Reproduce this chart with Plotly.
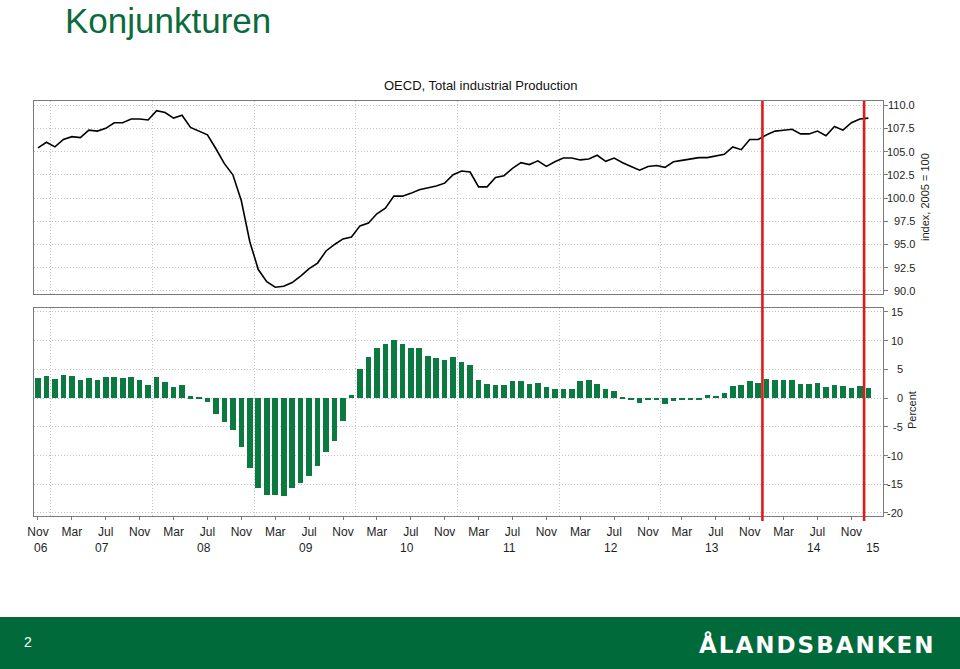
import plotly.graph_objects as go

W, H = 960, 669

# Month index: 0 = Nov 2006 ... 98 = Jan 2015
index_values = [105.4, 106.0, 105.5, 106.3, 106.6, 106.5, 107.3, 107.2, 107.5, 108.1,
                108.1, 108.5, 108.5, 108.4, 109.4, 109.2, 108.6, 108.9, 107.6, 107.2,
                106.8, 105.3, 103.7, 102.5, 99.7, 95.3, 92.3, 91.0, 90.4, 90.5,
                90.9, 91.6, 92.4, 93.0, 94.3, 95.0, 95.6, 95.8, 97.0, 97.3,
                98.3, 98.9, 100.2, 100.2, 100.5, 100.9, 101.1, 101.3, 101.6, 102.5,
                102.9, 102.8, 101.2, 101.2, 102.2, 102.4, 103.2, 103.8, 103.6, 104.0,
                103.4, 103.9, 104.3, 104.3, 104.1, 104.2, 104.6, 103.95, 104.3, 103.8,
                103.4, 103.0, 103.4, 103.5, 103.3, 103.9, 104.05, 104.2, 104.35, 104.35,
                104.5, 104.7, 105.5, 105.2, 106.3, 106.3, 106.8, 107.2, 107.3, 107.4,
                106.9, 106.9, 107.2, 106.7, 107.7, 107.3, 108.1, 108.5, 108.6]

yoy_percent = [3.5, 3.9, 3.4, 4.1, 3.8, 3.2, 3.5, 3.2, 3.7, 3.7,
               3.5, 3.7, 3.1, 2.3, 3.7, 2.8, 1.9, 2.3, 0.3, 0.2,
               -0.7, -2.7, -4.1, -5.6, -8.5, -12.2, -15.7, -16.8, -16.9, -17.0,
               -15.6, -14.7, -13.6, -11.9, -9.3, -7.5, -4.0, 0.6, 5.1, 7.1,
               8.8, 9.4, 10.2, 9.5, 8.8, 8.7, 7.4, 6.9, 6.6, 7.2,
               6.3, 5.8, 3.1, 2.5, 2.2, 2.3, 2.9, 3.0, 2.5, 2.7,
               1.9, 1.5, 1.6, 1.6, 3.0, 3.1, 2.4, 1.6, 1.2, 0.2,
               -0.2, -0.9, -0.3, -0.3, -1.0, -0.5, -0.2, -0.2, -0.2, 0.5,
               0.4, 0.9, 2.1, 2.2, 2.9, 2.7, 3.4, 3.2, 3.2, 3.2,
               2.5, 2.5, 2.6, 1.9, 2.2, 2.1, 1.7, 2.1, 1.7]

month_idx = list(range(len(index_values)))

month_tick_pos = list(range(0, 97, 4))
month_tick_text = ["Nov", "Mar", "Jul"] * 8 + ["Nov"]
year_label_pos = [0.4, 7.6, 19.6, 31.6, 43.6, 55.6, 67.6, 79.6, 91.6, 98.5]
year_label_text = ["06", "07", "08", "09", "10", "11", "12", "13", "14", "15"]
year_boundaries = [1.5 + 12 * k for k in range(9)]
red_line_pos = [85.5, 97.5]

top_ticks = [90.0, 92.5, 95.0, 97.5, 100.0, 102.5, 105.0, 107.5, 110.0]
bottom_ticks = [-20, -15, -10, -5, 0, 5, 10, 15]

FONT = "Liberation Sans, Arial, sans-serif"
GRID = "#c4c4c4"
FRAME = "#7a7a7a"
GREEN_BAR = "#0a7a40"
GREEN_DARK = "#006a3a"
TEXT = "#1e1e1e"


def py(y):
    return 1 - y / H


fig = go.Figure()
fig.add_trace(go.Scatter(x=month_idx, y=index_values, mode="lines",
                         line=dict(color="black", width=1.6),
                         xaxis="x", yaxis="y", showlegend=False, hoverinfo="skip"))
fig.add_trace(go.Bar(x=month_idx, y=yoy_percent, marker_color=GREEN_BAR,
                     marker_line_width=0, width=0.66,
                     xaxis="x2", yaxis="y2", showlegend=False, hoverinfo="skip"))

xdom = [34 / W, 883 / W]
xrange_ = [-0.47, 99.73]
DOT = "1px,2px"

common_x = dict(domain=xdom, range=xrange_, showline=True, mirror=True, automargin=False,
                linecolor=FRAME, linewidth=1, zeroline=False, showgrid=False,
                tickmode="array", tickvals=month_tick_pos,
                minor=dict(tickmode="array", tickvals=year_boundaries, showgrid=True,
                           gridcolor=GRID, griddash=DOT, gridwidth=1))

fig.update_layout(
    width=W, height=H, margin=dict(l=0, r=0, t=0, b=0, autoexpand=False),
    paper_bgcolor="white", plot_bgcolor="white",
    font=dict(family=FONT, color=TEXT, size=12),
    bargap=0,
    xaxis=dict(**common_x, anchor="y", showticklabels=False, ticks=""),
    xaxis2=dict(**common_x, anchor="y2", ticktext=month_tick_text,
                ticks="outside", ticklen=3, tickcolor=FRAME,
                tickfont=dict(size=12, family=FONT, color=TEXT),
                ticklabelstandoff=2),
    yaxis=dict(domain=[py(294), py(101)], range=[89.67, 110.44], side="right",
               anchor="x", tickmode="array", tickvals=top_ticks, showticklabels=False,
               ticks="outside", ticklen=4, tickcolor=FRAME, automargin=False,
               showgrid=True, gridcolor=GRID, griddash=DOT, zeroline=False,
               showline=True, mirror=True, linecolor=FRAME, linewidth=1),
    yaxis2=dict(domain=[py(516), py(308)], range=[-20.53, 15.69], side="right",
                anchor="x2", tickmode="array", tickvals=bottom_ticks, showticklabels=False,
                ticks="outside", ticklen=4, tickcolor=FRAME, automargin=False,
                showgrid=True, gridcolor=GRID, griddash=DOT, zeroline=False,
                showline=True, mirror=True, linecolor=FRAME, linewidth=1),
)

shapes = []
for xv in red_line_pos:
    shapes.append(dict(type="line", xref="x", yref="paper", x0=xv, x1=xv,
                       y0=py(521), y1=py(101), line=dict(color="#dd1c1c", width=2.6)))
shapes.append(dict(type="rect", xref="paper", yref="paper", x0=0, x1=1,
                   y0=0, y1=py(617), fillcolor=GREEN_DARK, line=dict(width=0), layer="below"))
fig.update_layout(shapes=shapes)

ann = []
for v in top_ticks:
    ann.append(dict(x=917 / W, xref="paper", y=v, yref="y", text=f"{v:.1f}",
                    showarrow=False, xanchor="right", yanchor="middle",
                    font=dict(size=11, family=FONT, color=TEXT)))
for v in bottom_ticks:
    ann.append(dict(x=905 / W, xref="paper", y=v, yref="y2", text=str(v),
                    showarrow=False, xanchor="right", yanchor="middle",
                    font=dict(size=11, family=FONT, color=TEXT)))
for xv, t in zip(year_label_pos, year_label_text):
    ann.append(dict(x=xv, xref="x2", y=py(548), yref="paper", text=t,
                    showarrow=False, xanchor="center", yanchor="middle",
                    font=dict(size=12, family=FONT, color=TEXT)))
ann.append(dict(x=925 / W, xref="paper", y=py(197), yref="paper", text="index, 2005 = 100",
                textangle=-90, showarrow=False, xanchor="center", yanchor="middle",
                font=dict(size=11, family=FONT, color=TEXT)))
ann.append(dict(x=912 / W, xref="paper", y=py(410), yref="paper", text="Percent",
                textangle=-90, showarrow=False, xanchor="center", yanchor="middle",
                font=dict(size=11, family=FONT, color=TEXT)))
ann.append(dict(x=480 / W, xref="paper", y=py(85), yref="paper",
                text="OECD, Total industrial Production", showarrow=False,
                xanchor="center", yanchor="middle",
                font=dict(size=13, family=FONT, color="#111111")))
ann.append(dict(x=64 / W, xref="paper", y=1, yref="paper", text="Konjunkturen",
                showarrow=False, xanchor="left", yanchor="top", borderpad=0,
                font=dict(size=35, family=FONT, color="#0b6b3c")))
ann.append(dict(x=22 / W, xref="paper", y=py(642), yref="paper", text="2",
                showarrow=False, xanchor="left", yanchor="middle",
                font=dict(size=14, family=FONT, color="white")))
ann.append(dict(x=938 / W, xref="paper", y=py(644), yref="paper",
                text='<span style="letter-spacing:2px">ÅLANDSBANKEN</span>',
                showarrow=False, xanchor="right", yanchor="middle",
                font=dict(size=23, family="DejaVu Sans, sans-serif", color="white",
                          weight="bold")))
fig.update_layout(annotations=ann)

fig.write_html("out.html")
